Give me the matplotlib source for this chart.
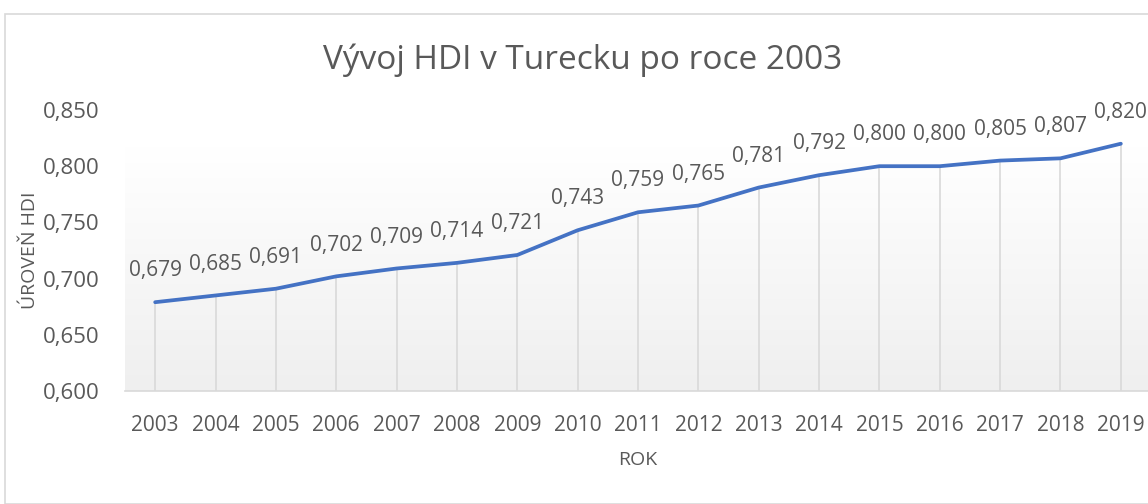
import matplotlib
matplotlib.use('Agg')
import matplotlib.pyplot as plt
import numpy as np
from matplotlib.patches import Rectangle

years = ['2003', '2004', '2005', '2006', '2007', '2008', '2009', '2010', '2011',
         '2012', '2013', '2014', '2015', '2016', '2017', '2018', '2019']
hdi = [0.679, 0.685, 0.691, 0.702, 0.709, 0.714, 0.721, 0.743, 0.759,
       0.765, 0.781, 0.792, 0.800, 0.800, 0.805, 0.807, 0.820]
yticks = [0.600, 0.650, 0.700, 0.750, 0.800, 0.850]

plt.rcParams['font.family'] = ['Open Sans', 'DejaVu Sans']
txt = '#595959'

fig = plt.figure(figsize=(11.48, 5.04), dpi=100)
fig.patches.append(Rectangle((5 / 1148, 0), 1.1, (504 - 14) / 504, transform=fig.transFigure,
                             fill=False, edgecolor='#d9d9d9', linewidth=1.2))

ax = fig.add_axes([125 / 1148, 113 / 504, 1026 / 1148, 281 / 504])
x = np.arange(len(years))

# gradient panel like Excel plot area
grad = np.linspace(0, 1, 256).reshape(-1, 1)
cmap = matplotlib.colors.LinearSegmentedColormap.from_list('g', ['#efefef', '#ffffff'])
ax.imshow(grad, extent=(-0.5, len(years) - 0.5, 0.6, 0.817), origin='lower',
          aspect='auto', cmap=cmap, zorder=0)

ax.vlines(x, 0.6, hdi, color='#d9d9d9', linewidth=1.2, zorder=1)
ax.plot(x, hdi, color='#4472c4', linewidth=2.7, solid_capstyle='round', zorder=3)
for xi, v in zip(x, hdi):
    ax.annotate(f'{v:.3f}'.replace('.', ','), (xi, v), xytext=(0, 15),
                textcoords='offset points', ha='center', va='bottom',
                fontsize=15, color=txt)

ax.set_xlim(-0.5, len(years) - 0.5)
ax.set_ylim(0.6, 0.85)
ax.set_xticks(x)
ax.set_xticklabels(years)
ax.set_yticks(yticks)
ax.set_yticklabels([f'{t:.3f}'.replace('.', ',') for t in yticks])
ax.tick_params(length=0, labelsize=15, labelcolor=txt)
ax.tick_params(axis='y', labelsize=16, pad=18)
ax.tick_params(axis='x', pad=17)
for s in ['top', 'right', 'left']:
    ax.spines[s].set_visible(False)
ax.spines['bottom'].set_color('#d9d9d9')
ax.spines['bottom'].set_linewidth(1.2)
ax.patch.set_alpha(0)

ax.set_xlabel('ROK', fontsize=14, color=txt)
ax.set_ylabel('ÚROVEŇ HDI', fontsize=14, color=txt)
ax.xaxis.set_label_coords(0.5, (391 - 460) / 281)
ax.yaxis.set_label_coords((30 - 125) / 1026, 0.5)
ax.xaxis.label.set_va('center')
ax.yaxis.label.set_va('center')
fig.text(583 / 1148, 1 - 60 / 504, 'Vývoj HDI v Turecku po roce 2003', ha='center', va='center',
         fontsize=24, color=txt)

fig.savefig('out.png', dpi=100)
